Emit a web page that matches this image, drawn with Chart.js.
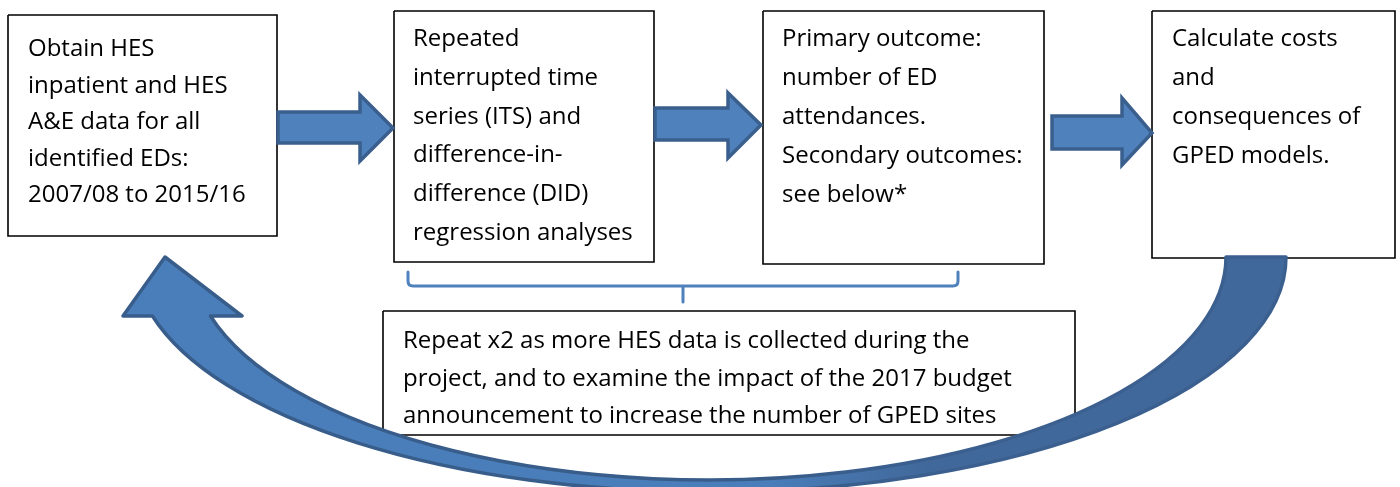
<!DOCTYPE html>
<html>
<head>
<meta charset="utf-8">
<script src="https://cdn.jsdelivr.net/npm/chart.js@4.4.0/dist/chart.umd.min.js"></script>
<style>
  html, body { margin: 0; padding: 0; background: #ffffff; }
  #wrap { width: 1400px; height: 487px; position: relative; }
</style>
</head>
<body>
<div id="wrap"><canvas id="c"></canvas></div>
<script>
// ---- content ----
const box1Lines = ["Obtain HES", "inpatient and HES", "A&E data for all", "identified EDs:", "2007/08 to 2015/16"];
const box2Lines = ["Repeated", "interrupted time", "series (ITS) and", "difference-in-", "difference (DID)", "regression analyses"];
const box3Lines = ["Primary outcome:", "number of ED", "attendances.", "Secondary outcomes:", "see below*"];
const box4Lines = ["Calculate costs", "and", "consequences of", "GPED models."];
const box5Lines = ["Repeat x2 as more HES data is collected during the", "project, and to examine the impact of the 2017 budget", "announcement to increase the number of GPED sites"];

// ---- layout (diagram coordinates, 1 unit = 1 px of the reference) ----
const boxRects = [
  [8, 15, 277, 236],
  [394, 11, 654, 262],
  [763, 11, 1044, 264],
  [1152, 11, 1395, 258],
  [383, 311, 1075, 435]
];
const boxText = [
  { lines: box1Lines, x: 28, y: 56, step: 36.6 },
  { lines: box2Lines, x: 413, y: 46, step: 38.8 },
  { lines: box3Lines, x: 782, y: 46, step: 39 },
  { lines: box4Lines, x: 1172, y: 46, step: 39 },
  { lines: box5Lines, x: 403, y: 348, step: 37.5 }
];
// straight block arrows: [shaftX0, shaftTop, shaftBottom, headBaseX, headTop, headBottom, tipX, tipY]
const arrows = [
  [278, 112, 143, 360, 95, 161, 393, 128],
  [655, 108, 140, 728, 93, 158, 761, 125],
  [1052, 116, 149, 1122, 98, 165, 1152, 133]
];
// curved return arrow: two ellipses (inner/outer edge) + head
const curveInner = { cx: 709, cy: 257, rx: 517, ry: 223 };
const curveOuter = { cx: 710, cy: 257, rx: 576, ry: 235 };
const curveHead = { baseY: 316, left: 123, right: 242, tipX: 165, tipY: 257 };
// brace under box 2 / 3
const brace = { x0: 408, x1: 958, yTop: 272, y: 286, midX: 683, yMid: 302 };

const FONT = '24px "Open Sans", "Noto Sans", sans-serif';

// Box outlines as datasets
const boxDatasets = boxRects.map(r => ({
  data: [{x: r[0], y: r[1]}, {x: r[2], y: r[1]}, {x: r[2], y: r[3]}, {x: r[0], y: r[3]}, {x: r[0], y: r[1]}],
  showLine: true, borderColor: '#000000', borderWidth: 1.6, pointRadius: 0,
  backgroundColor: '#ffffff', fill: false, tension: 0, order: 1
}));

const diagramPlugin = {
  id: 'diagram',
  beforeDatasetsDraw(chart) {
    const ctx = chart.ctx, xs = chart.scales.x, ys = chart.scales.y;
    ctx.save();
    ctx.fillStyle = '#ffffff';
    boxRects.forEach(r => {
      const x0 = xs.getPixelForValue(r[0]), y0 = ys.getPixelForValue(r[1]);
      const x1 = xs.getPixelForValue(r[2]), y1 = ys.getPixelForValue(r[3]);
      ctx.fillRect(x0, y0, x1 - x0, y1 - y0);
    });
    ctx.restore();
  },
  afterDatasetsDraw(chart) {
    const ctx = chart.ctx, xs = chart.scales.x, ys = chart.scales.y;
    const X = v => xs.getPixelForValue(v), Y = v => ys.getPixelForValue(v);
    ctx.save();
    // text
    ctx.fillStyle = '#000000';
    ctx.font = FONT;
    ctx.textBaseline = 'alphabetic';
    ctx.textAlign = 'left';
    boxText.forEach(b => {
      b.lines.forEach((t, i) => ctx.fillText(t, X(b.x), Y(b.y + i * b.step)));
    });
    // straight arrows
    ctx.lineJoin = 'miter';
    arrows.forEach(a => {
      ctx.beginPath();
      ctx.moveTo(X(a[0]), Y(a[1]));
      ctx.lineTo(X(a[3]), Y(a[1]));
      ctx.lineTo(X(a[3]), Y(a[4]));
      ctx.lineTo(X(a[6]), Y(a[7]));
      ctx.lineTo(X(a[3]), Y(a[5]));
      ctx.lineTo(X(a[3]), Y(a[2]));
      ctx.lineTo(X(a[0]), Y(a[2]));
      ctx.closePath();
      ctx.fillStyle = '#4f81bd';
      ctx.fill();
      ctx.lineWidth = 3.5;
      ctx.strokeStyle = '#3a5f8d';
      ctx.stroke();
    });
    // brace
    ctx.beginPath();
    ctx.lineWidth = 3;
    ctx.strokeStyle = '#4f81bd';
    ctx.lineCap = 'round';
    ctx.lineJoin = 'round';
    const r = 5;
    ctx.moveTo(X(brace.x0), Y(brace.yTop));
    ctx.lineTo(X(brace.x0), Y(brace.y - r));
    ctx.quadraticCurveTo(X(brace.x0), Y(brace.y), X(brace.x0 + r), Y(brace.y));
    ctx.lineTo(X(brace.x1 - r), Y(brace.y));
    ctx.quadraticCurveTo(X(brace.x1), Y(brace.y), X(brace.x1), Y(brace.y - r));
    ctx.lineTo(X(brace.x1), Y(brace.yTop));
    ctx.moveTo(X(brace.midX), Y(brace.y));
    ctx.lineTo(X(brace.midX), Y(brace.yMid));
    ctx.stroke();
    // curved arrow
    const ip = { cx: X(curveInner.cx), cy: Y(curveInner.cy), rx: X(curveInner.cx + curveInner.rx) - X(curveInner.cx), ry: Y(curveInner.cy + curveInner.ry) - Y(curveInner.cy) };
    const op = { cx: X(curveOuter.cx), cy: Y(curveOuter.cy), rx: X(curveOuter.cx + curveOuter.rx) - X(curveOuter.cx), ry: Y(curveOuter.cy + curveOuter.ry) - Y(curveOuter.cy) };
    const hb = Y(curveHead.baseY);
    const thO = Math.PI - Math.asin((hb - op.cy) / op.ry);
    const thI = Math.PI - Math.asin((hb - ip.cy) / ip.ry);
    ctx.beginPath();
    ctx.moveTo(op.cx + op.rx, op.cy);
    ctx.ellipse(op.cx, op.cy, op.rx, op.ry, 0, 0, thO, false);
    ctx.lineTo(X(curveHead.left), hb);
    ctx.lineTo(X(curveHead.tipX), Y(curveHead.tipY));
    ctx.lineTo(X(curveHead.right), hb);
    ctx.lineTo(ip.cx + ip.rx * Math.cos(thI), ip.cy + ip.ry * Math.sin(thI));
    ctx.ellipse(ip.cx, ip.cy, ip.rx, ip.ry, 0, thI, 0, true);
    ctx.closePath();
    const g = ctx.createLinearGradient(X(760), 0, X(930), 0);
    g.addColorStop(0, '#4a7ebb');
    g.addColorStop(1, '#41689a');
    ctx.fillStyle = g;
    ctx.fill();
    const gs = ctx.createLinearGradient(X(760), 0, X(930), 0);
    gs.addColorStop(0, '#385d8a');
    gs.addColorStop(1, '#3b5f8f');
    ctx.lineWidth = 3.5;
    ctx.lineJoin = 'round';
    ctx.strokeStyle = gs;
    ctx.stroke();
    ctx.restore();
  }
};

new Chart(document.getElementById('c'), {
  type: 'scatter',
  data: { datasets: boxDatasets },
  options: {
    responsive: true,
    maintainAspectRatio: false,
    animation: false,
    layout: { padding: 0 },
    plugins: { legend: { display: false }, tooltip: { enabled: false }, title: { display: false } },
    scales: {
      x: { type: 'linear', min: 0, max: 1400, display: false },
      y: { type: 'linear', min: 0, max: 487, reverse: true, display: false }
    },
    events: []
  },
  plugins: [diagramPlugin]
});
</script>
</body>
</html>
